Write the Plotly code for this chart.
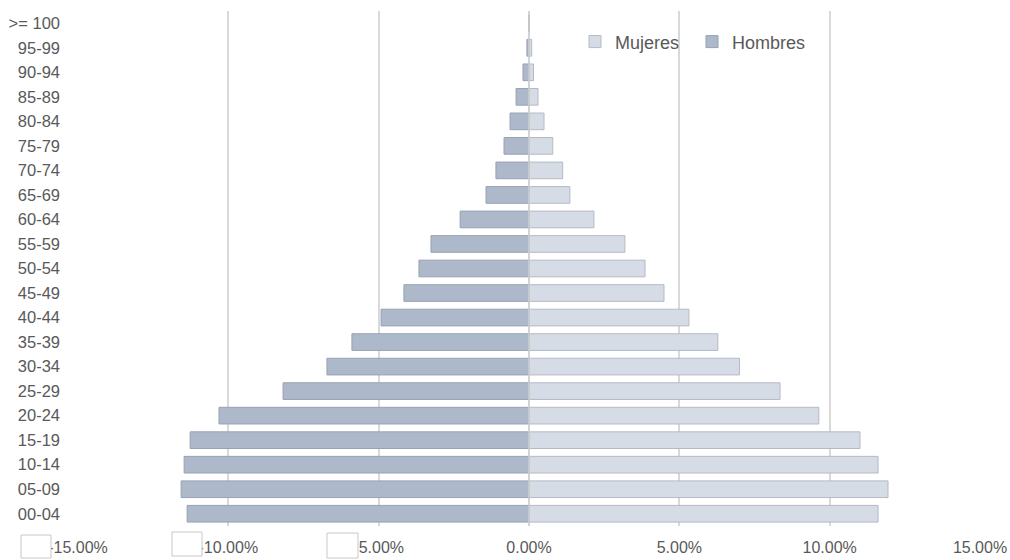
import plotly.graph_objects as go

grupos = ["00-04", "05-09", "10-14", "15-19", "20-24", "25-29", "30-34", "35-39",
          "40-44", "45-49", "50-54", "55-59", "60-64", "65-69", "70-74", "75-79",
          "80-84", "85-89", "90-94", "95-99", ">= 100"]

hombres = [11.37, 11.57, 11.47, 11.27, 10.31, 8.18, 6.72, 5.89, 4.92, 4.16, 3.66,
           3.26, 2.29, 1.43, 1.10, 0.83, 0.63, 0.43, 0.20, 0.07, 0.01]
mujeres = [11.61, 11.94, 11.61, 11.01, 9.64, 8.35, 7.00, 6.28, 5.32, 4.49, 3.86,
           3.19, 2.16, 1.36, 1.12, 0.79, 0.50, 0.30, 0.15, 0.09, 0.01]

tick_vals = [-15, -10, -5, 0, 5, 10, 15]
tick_text = ["-15.00%", "-10.00%", "-5.00%", "0.00%", "5.00%", "10.00%", "15.00%"]

FONT = "Liberation Sans"
GRAY = "#595959"

fig = go.Figure()
fig.add_trace(go.Bar(
    y=grupos, x=mujeres, orientation="h", name="Mujeres",
    marker=dict(color="#d6dce5", line=dict(color="#b4bac4", width=1)),
))
fig.add_trace(go.Bar(
    y=grupos, x=[-v for v in hombres], orientation="h", name="Hombres",
    marker=dict(color="#adb9ca", line=dict(color="#97a2b2", width=1)),
))

shapes = [
    dict(type="line", xref="x", yref="paper", x0=0, x1=0, y0=0, y1=1,
         line=dict(color="#d0d0d0", width=1.5), layer="above"),
]
for x0, x1, y0, y1 in [(21, 51, 535, 558), (172, 202, 532, 556), (327, 358, 533, 558)]:
    shapes.append(dict(
        type="rect", xref="paper", yref="paper",
        x0=(x0 - 78) / 902, x1=(x1 - 78) / 902,
        y0=(526 - y1) / 515, y1=(526 - y0) / 515,
        fillcolor="white", line=dict(color="#c8c8c8", width=1), layer="above",
    ))

fig.update_layout(
    width=1010, height=560,
    margin=dict(l=78, r=30, t=11, b=34, autoexpand=False),
    paper_bgcolor="white", plot_bgcolor="white",
    barmode="relative", bargap=0.32,
    font=dict(family=FONT, size=17, color=GRAY),
    showlegend=True,
    legend=dict(orientation="h", x=0.551, y=0.94, xanchor="left", yanchor="middle",
                font=dict(family=FONT, size=18, color=GRAY),
                bgcolor="rgba(0,0,0,0)", entrywidth=72, entrywidthmode="pixels",
                traceorder="normal"),
    xaxis=dict(range=[-15, 15], tickvals=tick_vals, ticktext=tick_text,
               showgrid=True, gridcolor="#d9d9d9", gridwidth=1.5,
               zeroline=False, showline=False, ticks="", automargin=False,
               ticklabelstandoff=10,
               tickfont=dict(family=FONT, size=16, color=GRAY)),
    yaxis=dict(type="category", categoryorder="array", categoryarray=grupos,
               range=[-0.5, 20.5], showgrid=False, zeroline=False, showline=False,
               ticks="", ticklabelstandoff=17, automargin=False,
               tickfont=dict(family=FONT, size=16.5, color=GRAY)),
    shapes=shapes,
)

fig.write_html(
    "out.html",
    config={"displayModeBar": False},
    post_script="document.body.style.margin='0';document.body.style.overflow='hidden';",
)
